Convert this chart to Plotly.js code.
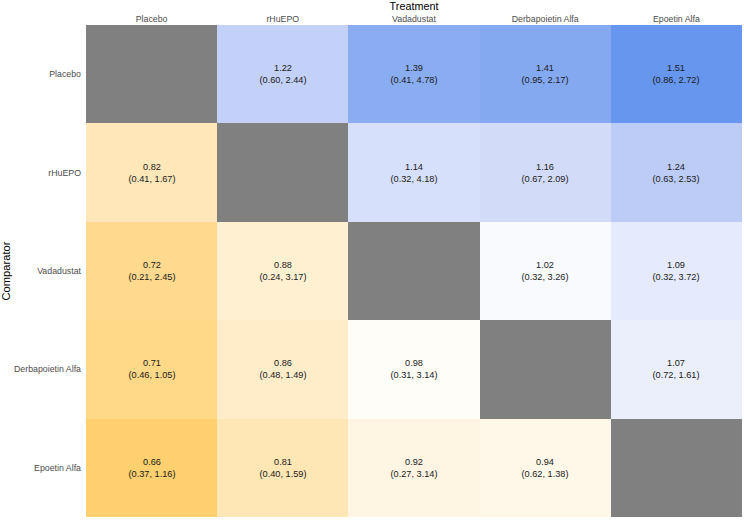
<!DOCTYPE html>
<html>
<head>
<meta charset="utf-8">
<script src="https://cdn.plot.ly/plotly-3.0.1.min.js"></script>
<style>html,body{margin:0;padding:0;background:#fff;}#chart{width:744px;height:520px;}</style>
</head>
<body>
<div id="chart"></div>
<script>
const treatments = ["Placebo", "rHuEPO", "Vadadustat", "Derbapoietin Alfa", "Epoetin Alfa"];
const comparators = ["Placebo", "rHuEPO", "Vadadustat", "Derbapoietin Alfa", "Epoetin Alfa"];
// rows = comparator, cols = treatment
const estimate = [
  [null, 1.22, 1.39, 1.41, 1.51],
  [0.82, null, 1.14, 1.16, 1.24],
  [0.72, 0.88, null, 1.02, 1.09],
  [0.71, 0.86, 0.98, null, 1.07],
  [0.66, 0.81, 0.92, 0.94, null]
];
const lower = [
  [null, 0.60, 0.41, 0.95, 0.86],
  [0.41, null, 0.32, 0.67, 0.63],
  [0.21, 0.24, null, 0.32, 0.32],
  [0.46, 0.48, 0.31, null, 0.72],
  [0.37, 0.40, 0.27, 0.62, null]
];
const upper = [
  [null, 2.44, 4.78, 2.17, 2.72],
  [1.67, null, 4.18, 2.09, 2.53],
  [2.45, 3.17, null, 3.26, 3.72],
  [1.05, 1.49, 3.14, null, 1.61],
  [1.16, 1.59, 3.14, 1.38, null]
];

const zLog = estimate.map(r => r.map(v => v == null ? null : Math.log(v)));
const labels = estimate.map((r, i) => r.map((v, j) => v == null ? "" :
  v.toFixed(2) + "<br>(" + lower[i][j].toFixed(2) + ", " + upper[i][j].toFixed(2) + ")"));
const diag = comparators.map((c, i) => treatments.map((t, j) => i === j ? 1 : null));

const lim = 0.416;
const data = [
  {
    type: "heatmap",
    x: treatments, y: comparators, z: zLog,
    zmin: -lim, zmax: lim,
    colorscale: [[0, "#FFD06F"], [0.25, "#FFE6B6"], [0.5, "#FFFFFF"], [0.75, "#C0CEF7"], [1, "#6495ED"]],
    showscale: false,
    text: labels,
    texttemplate: "%{text}",
    textfont: {family: "Liberation Sans, Arial, sans-serif", size: 9.2, color: "#1a1a1a"},
    hoverinfo: "skip",
    xgap: 0, ygap: 0
  },
  {
    type: "heatmap",
    x: treatments, y: comparators, z: diag,
    colorscale: [[0, "#808080"], [1, "#808080"]],
    showscale: false,
    hoverinfo: "skip"
  }
];

const layout = {
  width: 744, height: 520,
  margin: {l: 86, r: 2, t: 25, b: 3},
  paper_bgcolor: "#ffffff",
  plot_bgcolor: "#ffffff",
  font: {family: "Liberation Sans, Arial, sans-serif"},
  xaxis: {
    side: "top",
    type: "category",
    showgrid: false, zeroline: false, showline: false,
    ticks: "", ticklen: 0,
    tickfont: {size: 8.8, color: "#4d4d4d"},
    title: {text: "Treatment", font: {size: 10.8, color: "#000000"}, standoff: 3}
  },
  yaxis: {
    type: "category",
    autorange: "reversed",
    showgrid: false, zeroline: false, showline: false,
    ticks: "", ticklen: 0,
    ticklabelstandoff: 4,
    tickfont: {size: 8.8, color: "#4d4d4d"},
    title: {text: "Comparator", font: {size: 11.2, color: "#000000"}, standoff: 6}
  }
};

Plotly.newPlot("chart", data, layout, {displayModeBar: false, staticPlot: true});
</script>
</body>
</html>
